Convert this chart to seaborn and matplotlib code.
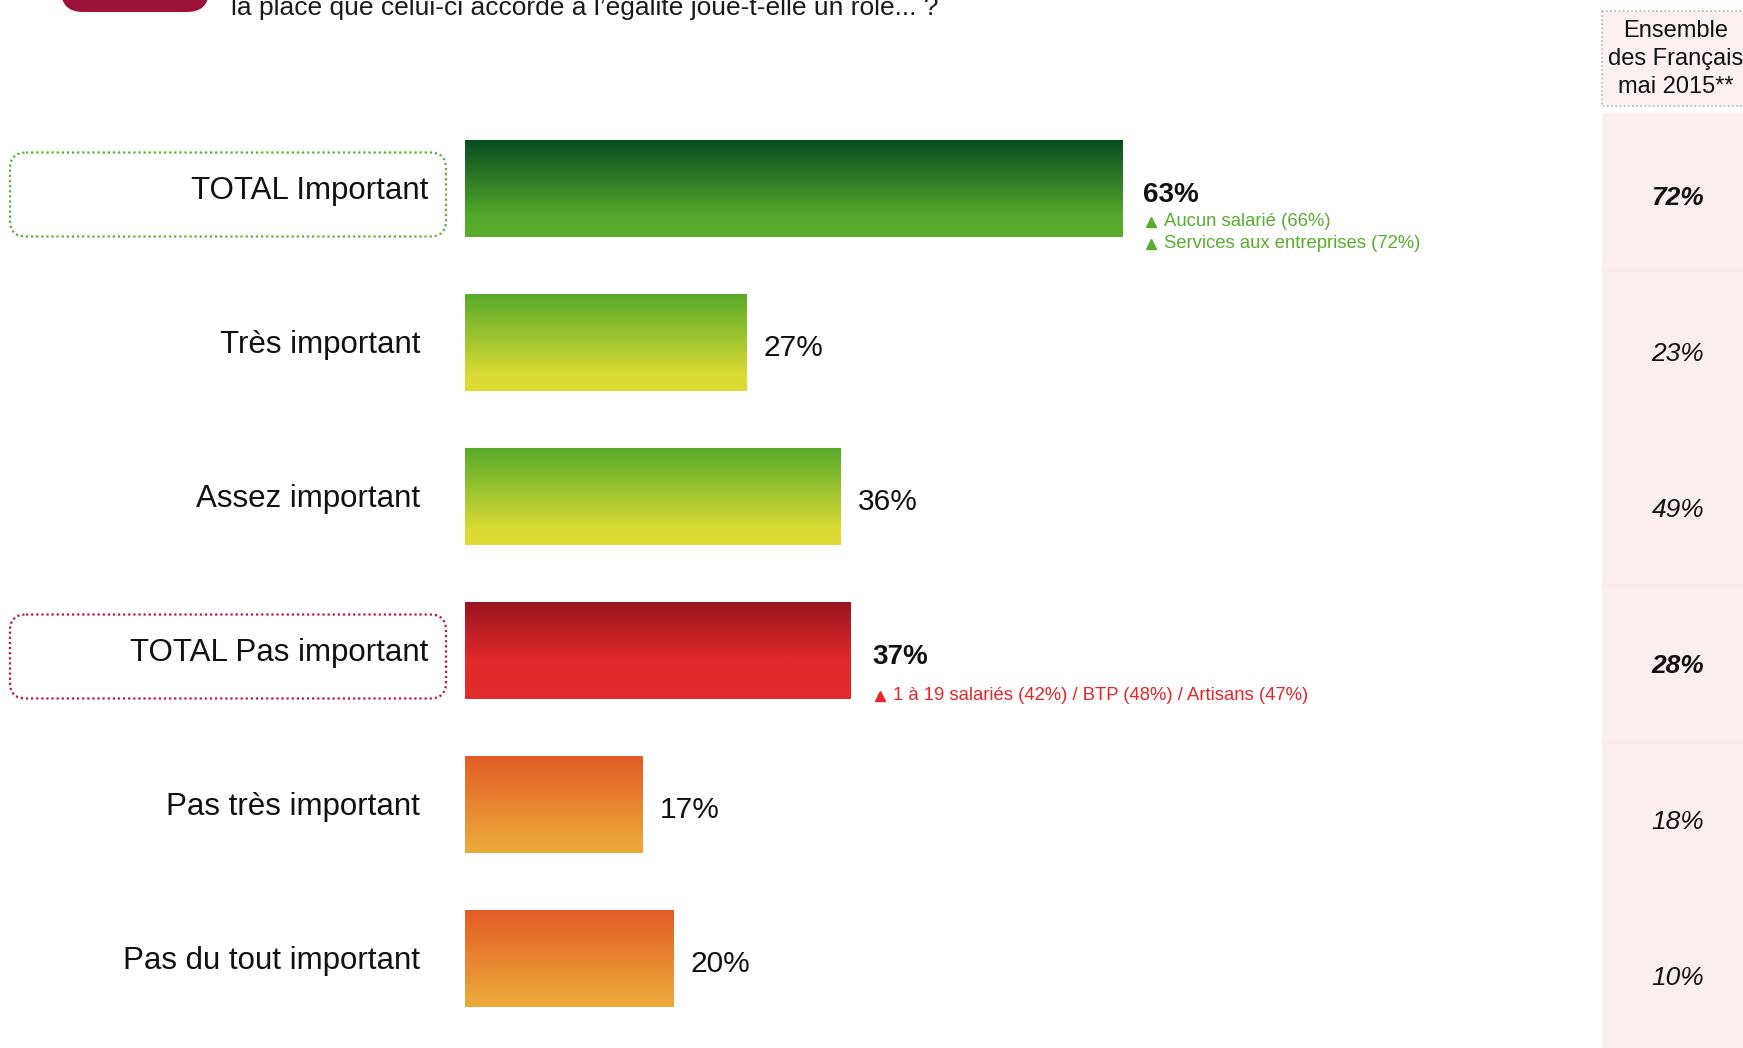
import numpy as np
import pandas as pd
import matplotlib
matplotlib.use("Agg")
import matplotlib.pyplot as plt
from matplotlib.colors import LinearSegmentedColormap
from matplotlib.patches import FancyBboxPatch, Rectangle
import seaborn as sns

# ---- data -------------------------------------------------------------
categories = ["TOTAL Important", "Très important", "Assez important",
              "TOTAL Pas important", "Pas très important", "Pas du tout important"]
values = [63, 27, 36, 37, 17, 20]
national_2015 = [72, 23, 49, 28, 18, 10]
is_total = [True, False, False, True, False, False]

green_notes = ["Aucun salarié (66%)", "Services aux entreprises (72%)"]
red_notes = ["1 à 19 salariés (42%) / BTP (48%) / Artisans (47%)"]
panel_header = "Ensemble\ndes Français\nmai 2015**"
question_tail = "la place que celui-ci accorde à l’égalité joue-t-elle un rôle... ?"

# vertical colour ramps (top -> bottom) for each bar family
gradients = {
    "dark_green": [(0.0, "#064b21"), (0.8, "#56aa2b"), (1.0, "#59ad2b")],
    "green_yellow": [(0.0, "#56aa2a"), (0.85, "#dcdb35"), (1.0, "#dedd36")],
    "red": [(0.0, "#98141f"), (0.6, "#e2292b"), (1.0, "#e52c2b")],
    "orange": [(0.0, "#e25b27"), (0.9, "#eba53a"), (1.0, "#eca83b")],
}
bar_gradient = ["dark_green", "green_yellow", "green_yellow", "red", "orange", "orange"]

# ---- geometry (pixels) -----------------------------------------------
W, H = 1743, 1048
X0 = 465.0            # pixel column of 0 %
PX_PER_PCT = 10.43
ROW0 = 188.5          # pixel row of the first bar centre
ROW_PITCH = 154.0

def dxp(p):
    return p / PX_PER_PCT

def dyp(p):
    return p / ROW_PITCH

sns.set_theme(style="white")
plt.rcParams["font.family"] = ["Liberation Sans", "DejaVu Sans"]

fig = plt.figure(figsize=(W / 100, H / 100), dpi=100)
fig.patch.set_facecolor("white")

# decoration layer in pixel coordinates (origin top-left)
deco = fig.add_axes([0, 0, 1, 1], zorder=0)
deco.set_xlim(0, W)
deco.set_ylim(H, 0)
deco.axis("off")

ax = fig.add_axes([0, 0, 1, 1], zorder=1)
ax.patch.set_alpha(0)

df = pd.DataFrame({"label": categories, "value": values})
base_colors = [gradients[g][-1][1] for g in bar_gradient]
sns.barplot(data=df, x="value", y="label", hue="label", palette=base_colors,
            orient="h", width=0.63, legend=False, ax=ax, saturation=1)

ylim = ((H - ROW0) / ROW_PITCH, -ROW0 / ROW_PITCH)

# replace flat fills by vertical gradients clipped to each bar
for patch in list(ax.patches):
    x0, y0 = patch.get_x(), patch.get_y()
    w, h = patch.get_width(), patch.get_height()
    idx = int(round(y0 + h / 2))
    cmap = LinearSegmentedColormap.from_list("g", gradients[bar_gradient[idx]])
    arr = cmap(np.linspace(0, 1, 256))[:, None, :]
    im = ax.imshow(arr, extent=(x0, x0 + w, y0 + h, y0), aspect="auto",
                   interpolation="bilinear", zorder=2)
    im.set_clip_path(patch)
    patch.set_facecolor("none")
    patch.set_edgecolor("none")

ax.set_xlim(-X0 / PX_PER_PCT, (W - X0) / PX_PER_PCT)
ax.set_ylim(*ylim)
ax.axis("off")

# ---- category labels and rounded dotted frames -------------------------
for i, (cat, tot) in enumerate(zip(categories, is_total)):
    x_right = 428 if tot else 420
    ax.text((x_right - X0) / PX_PER_PCT, i + dyp(2), cat, ha="right",
            va="center", fontsize=22.5, color="#111111")

frame_specs = [(0, "#5cb030"), (3, "#c0163a")]
for row, col in frame_specs:
    yc = ROW0 + row * ROW_PITCH
    deco.add_patch(FancyBboxPatch((10, yc - 36), 436, 84,
                                  boxstyle="round,pad=0,rounding_size=16",
                                  fc="none", ec=col, lw=1.6,
                                  ls=(0, (1, 1.3))))

# ---- value labels -------------------------------------------------------
for i, (v, tot) in enumerate(zip(values, is_total)):
    if tot:
        ax.text(v + dxp(21), i + dyp(6), f"{v}%", ha="left", va="center",
                fontsize=20, fontweight="bold", color="#111111")
    else:
        ax.text(v + dxp(17), i + dyp(5), f"{v}%", ha="left", va="center",
                fontsize=21.5, color="#111111")

# ---- significance notes -------------------------------------------------
def notes(row, lines, offsets, color):
    v = values[row]
    for line, off in zip(lines, offsets):
        yy = row + dyp(off)
        ax.plot([v + dxp(29)], [yy], marker="^", ms=7, color=color,
                ls="none", clip_on=False, zorder=3)
        ax.text(v + dxp(42), yy, line, ha="left", va="center",
                fontsize=13.3, color=color)

notes(0, green_notes, [33, 55], "#58ad2f")
notes(3, red_notes, [45], "#e5262b")

# ---- reference column (right) ------------------------------------------
deco.add_patch(Rectangle((1602, 113), 160, 960, fc="#fbeeee", ec="none"))
for yl in (270, 585, 742):
    deco.plot([1602, W], [yl, yl], color="#f5e2e2", lw=1)
deco.add_patch(Rectangle((1602, 11), 160, 95, fc="#fcf1f1", ec="#b4b4b4",
                         lw=1.2, ls=(0, (1, 1.5))))
deco.text(1676, 59, panel_header, ha="center", va="center", fontsize=17,
          linespacing=1.38, color="#111111", multialignment="center")
for i, (nv, tot) in enumerate(zip(national_2015, is_total)):
    deco.text(1678, 198 + 156 * i, f"{nv}%", ha="center", va="center",
              fontsize=19, style="italic",
              fontweight="bold" if tot else "normal", color="#111111")

# ---- question header ----------------------------------------------------
deco.add_patch(FancyBboxPatch((61, -60), 148, 72,
                              boxstyle="round,pad=0,rounding_size=22",
                              fc="#9d1238", ec="none"))
deco.text(231, 15, question_tail, ha="left", va="baseline", fontsize=19,
          color="#1a1a1a")

fig.savefig("out.png", dpi=100, facecolor="white")
